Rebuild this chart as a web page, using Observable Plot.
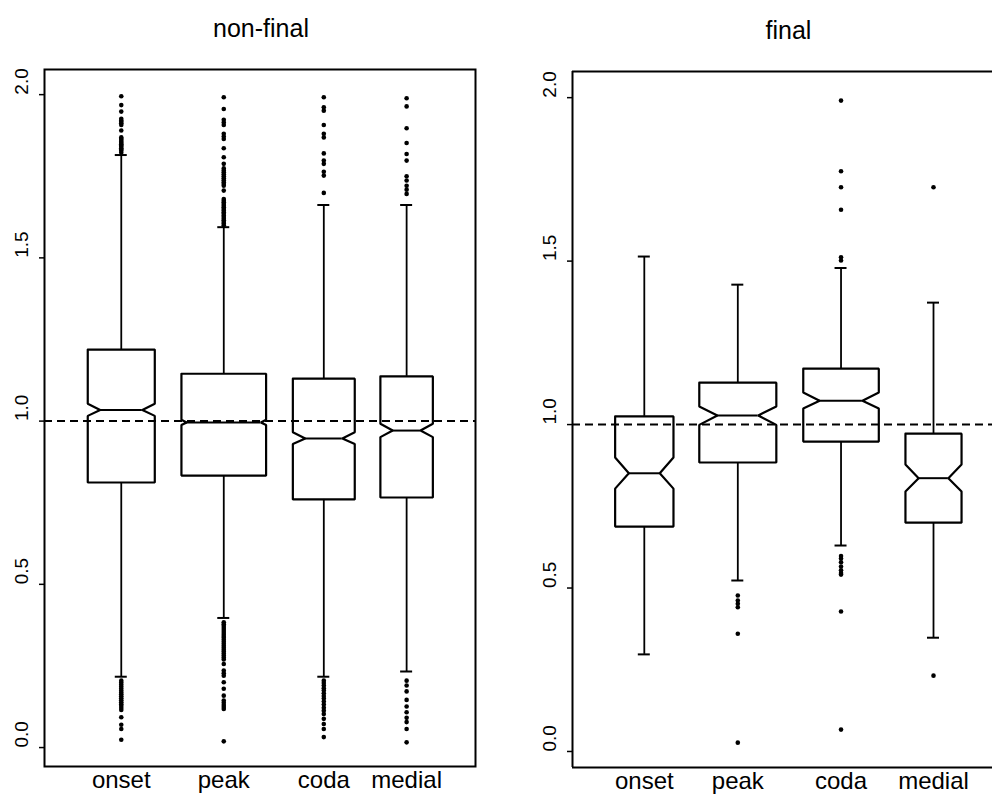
<!DOCTYPE html>
<html><head><meta charset="utf-8">
<script src="https://cdn.jsdelivr.net/npm/d3@7"></script>
<script src="https://cdn.jsdelivr.net/npm/@observablehq/plot@0.6"></script>
<style>
html,body{margin:0;padding:0;background:#fff;}
#wrap{position:relative;width:992px;height:795px;overflow:hidden;background:#fff;}
#left,#right{position:absolute;top:0;}
#left{left:0;} #right{left:495px;}
svg{display:block;}
</style></head><body><div id="wrap"><div id="left"></div><div id="right"></div></div>
<script>
// ---------- data ----------
const categories = ["onset", "peak", "coda", "medial"];
const yTicks = [0, 0.5, 1, 1.5, 2];
const titles = ["non-final", "final"];
const refValue = 1.0;

// non-final panel: box locations (x units) and variable box widths (x units)
const nfAt = [1, 2, 2.976, 3.784];
const nfWidth = [0.654, 0.826, 0.604, 0.512];
const nfQ1 = [0.812, 0.833, 0.760, 0.766];
const nfMed = [1.034, 0.996, 0.947, 0.971];
const nfQ3 = [1.219, 1.145, 1.130, 1.137];
const nfNotchLo = [1.016, 0.988, 0.930, 0.951];
const nfNotchHi = [1.053, 1.004, 0.966, 0.992];
const nfWhiskLo = [0.217, 0.397, 0.217, 0.233];
const nfWhiskHi = [1.815, 1.594, 1.662, 1.662];
const nfOutOnset = [1.995, 1.968, 1.948, 1.926, 1.921, 1.917, 1.912, 1.907, 1.890, 1.869, 1.865, 1.861, 1.856, 1.852, 1.848, 1.844, 1.840, 1.836, 1.832, 1.828, 1.822,
  0.205, 0.199, 0.193, 0.187, 0.181, 0.175, 0.169, 0.163, 0.157, 0.151, 0.145, 0.139, 0.133, 0.127, 0.121, 0.115, 0.093, 0.070, 0.057, 0.024];
const nfOutPeak = [1.992, 1.956, 1.923, 1.915, 1.907, 1.880, 1.872, 1.864, 1.836, 1.808, 1.788, 1.774, 1.768, 1.762, 1.756, 1.750, 1.744, 1.738, 1.732, 1.726, 1.721, 1.706,
  1.680, 1.675, 1.670, 1.665, 1.660, 1.655, 1.650, 1.645, 1.640, 1.635, 1.630, 1.625, 1.620, 1.615, 1.610, 1.605, 1.600,
  0.384, 0.378, 0.372, 0.366, 0.360, 0.354, 0.348, 0.342, 0.336, 0.330, 0.324, 0.318, 0.312, 0.306, 0.300, 0.294, 0.288, 0.282, 0.276, 0.270, 0.256, 0.236, 0.228, 0.220,
  0.200, 0.180, 0.159, 0.144, 0.137, 0.130, 0.124, 0.118, 0.019];
const nfOutCoda = [1.992, 1.961, 1.951, 1.907, 1.880, 1.869, 1.820, 1.798, 1.788, 1.764, 1.752, 1.699,
  0.205, 0.198, 0.190, 0.182, 0.175, 0.166, 0.158, 0.150, 0.141, 0.132, 0.122, 0.113, 0.103, 0.088, 0.072, 0.057, 0.032];
const nfOutMedial = [1.989, 1.964, 1.897, 1.852, 1.818, 1.798, 1.750, 1.737, 1.721, 1.709, 1.696,
  0.205, 0.190, 0.172, 0.146, 0.126, 0.108, 0.091, 0.078, 0.057, 0.016];

// final panel
const fAt = [1, 2, 3.104, 4.093];
const fWidth = [0.624, 0.824, 0.808, 0.600];
const fQ1 = [0.688, 0.884, 0.948, 0.700];
const fMed = [0.851, 1.028, 1.073, 0.836];
const fQ3 = [1.025, 1.128, 1.171, 0.972];
const fNotchLo = [0.804, 0.999, 1.049, 0.795];
const fNotchHi = [0.899, 1.055, 1.098, 0.878];
const fWhiskLo = [0.297, 0.523, 0.630, 0.348];
const fWhiskHi = [1.514, 1.428, 1.479, 1.373];
const fOutOnset = [];
const fOutPeak = [0.477, 0.462, 0.452, 0.441, 0.360, 0.027];
const fOutCoda = [1.991, 1.775, 1.726, 1.657, 1.512, 1.502, 0.598, 0.590, 0.579, 0.566, 0.554, 0.546, 0.541, 0.428, 0.067];
const fOutMedial = [1.726, 0.232];

// ---------- drawing ----------
const REG = "'Liberation Sans', Arial, Helvetica, sans-serif";

function panel(cfg) {
  const {title, at, width, q1, med, q3, nlo, nhi, wlo, whi, outs, W, H, mL, mR, mT, mB, xDom, yDom, fullFrame, titleDx} = cfg;
  const sx = Plot.scale({x: {domain: xDom, range: [mL, W - mR]}});
  const sy = Plot.scale({y: {domain: yDom, range: [H - mB, mT]}});
  const pxX = sx.apply(1) - sx.apply(0);
  const pxY = sy.apply(0) - sy.apply(1);
  const boxes = categories.map((c, i) => {
    const hw = width[i] / 2;
    const nh = Math.max(nhi[i] - med[i], med[i] - nlo[i]);
    const ind = Math.min(0.47 * hw * pxX, 2 * nh * pxY) / pxX;
    return {cat: c, at: at[i], hw, ind, q1: q1[i], med: med[i], q3: q3[i], nlo: nlo[i], nhi: nhi[i], wlo: wlo[i], whi: whi[i]};
  });
  const pts = [];
  for (const b of boxes) {
    const L = b.at - b.hw, R = b.at + b.hw;
    [[L, b.q3], [R, b.q3], [R, b.nhi], [R - b.ind, b.med], [R, b.nlo], [R, b.q1], [L, b.q1], [L, b.nlo], [L + b.ind, b.med], [L, b.nhi], [L, b.q3]]
      .forEach(([x, y]) => pts.push({cat: b.cat, x, y}));
  }
  const outData = [];
  outs.forEach((arr, i) => arr.forEach(v => outData.push({at: at[i], v})));
  const cap = 6 / pxX;

  const frameMarks = fullFrame
    ? [Plot.frame({stroke: "black", strokeWidth: 2})]
    : [Plot.ruleX([xDom[0]], {stroke: "black", strokeWidth: 2}),
       Plot.ruleY([yDom[0]], {stroke: "black", strokeWidth: 2}),
       Plot.ruleY([yDom[1]], {stroke: "black", strokeWidth: 2})];

  return Plot.plot({
    width: W, height: H,
    marginLeft: mL, marginRight: mR, marginTop: mT, marginBottom: mB,
    x: {domain: xDom, axis: null},
    y: {domain: yDom, axis: null},
    style: {background: "white", color: "black", overflow: "visible"},
    marks: [
      Plot.ruleY([refValue], {stroke: "black", strokeWidth: 2, strokeDasharray: "8,5"}),
      Plot.ruleX(boxes, {x: "at", y1: "q3", y2: "whi", stroke: "black", strokeWidth: 1.8}),
      Plot.ruleX(boxes, {x: "at", y1: "wlo", y2: "q1", stroke: "black", strokeWidth: 1.8}),
      Plot.ruleY(boxes, {y: "whi", x1: d => d.at - cap, x2: d => d.at + cap, stroke: "black", strokeWidth: 2}),
      Plot.ruleY(boxes, {y: "wlo", x1: d => d.at - cap, x2: d => d.at + cap, stroke: "black", strokeWidth: 2}),
      Plot.line(pts, {x: "x", y: "y", z: "cat", stroke: "black", strokeWidth: 2.2, curve: "linear", strokeLinejoin: "miter"}),
      Plot.ruleY(boxes, {y: "med", x1: d => d.at - d.hw + d.ind, x2: d => d.at + d.hw - d.ind, stroke: "black", strokeWidth: 2}),
      Plot.dot(outData, {x: "at", y: "v", r: 2.3, fill: "black", stroke: null}),
      ...frameMarks,
      Plot.axisY({ticks: yTicks, tickSize: 5, tickFormat: () => "", stroke: "black", strokeWidth: 1.5}),
      Plot.text(yTicks, {y: d => d, frameAnchor: "left", lineAnchor: "middle", dx: -23, rotate: -90, text: d => d.toFixed(1), fontSize: 19, fontFamily: REG, fill: "black"}),
      Plot.text(boxes, {x: "at", frameAnchor: "bottom", text: "cat", lineAnchor: "top", dy: 4, fontSize: 24, fontFamily: REG, fill: "black"}),
      Plot.text([title], {frameAnchor: "top", lineAnchor: "middle", dy: -41, dx: titleDx, text: d => d, fontSize: 25, fontFamily: REG, fill: "black"})
    ]
  });
}

document.getElementById("left").appendChild(panel({
  title: titles[0], at: nfAt, width: nfWidth, q1: nfQ1, med: nfMed, q3: nfQ3, nlo: nfNotchLo, nhi: nfNotchHi,
  wlo: nfWhiskLo, whi: nfWhiskHi, outs: [nfOutOnset, nfOutPeak, nfOutCoda, nfOutMedial],
  W: 495, H: 795, mL: 44, mR: 20, mT: 69, mB: 29, xDom: [0.251, 4.456], yDom: [-0.058, 2.077], fullFrame: true, titleDx: 1
}));
document.getElementById("right").appendChild(panel({
  title: titles[1], at: fAt, width: fWidth, q1: fQ1, med: fMed, q3: fQ3, nlo: fNotchLo, nhi: fNotchHi,
  wlo: fWhiskLo, whi: fWhiskHi, outs: [fOutOnset, fOutPeak, fOutCoda, fOutMedial],
  W: 497, H: 795, mL: 77, mR: 0, mT: 71, mB: 28, xDom: [0.232, 4.724], yDom: [-0.049, 2.080], fullFrame: false, titleDx: 6
}));
</script>
</body></html>
